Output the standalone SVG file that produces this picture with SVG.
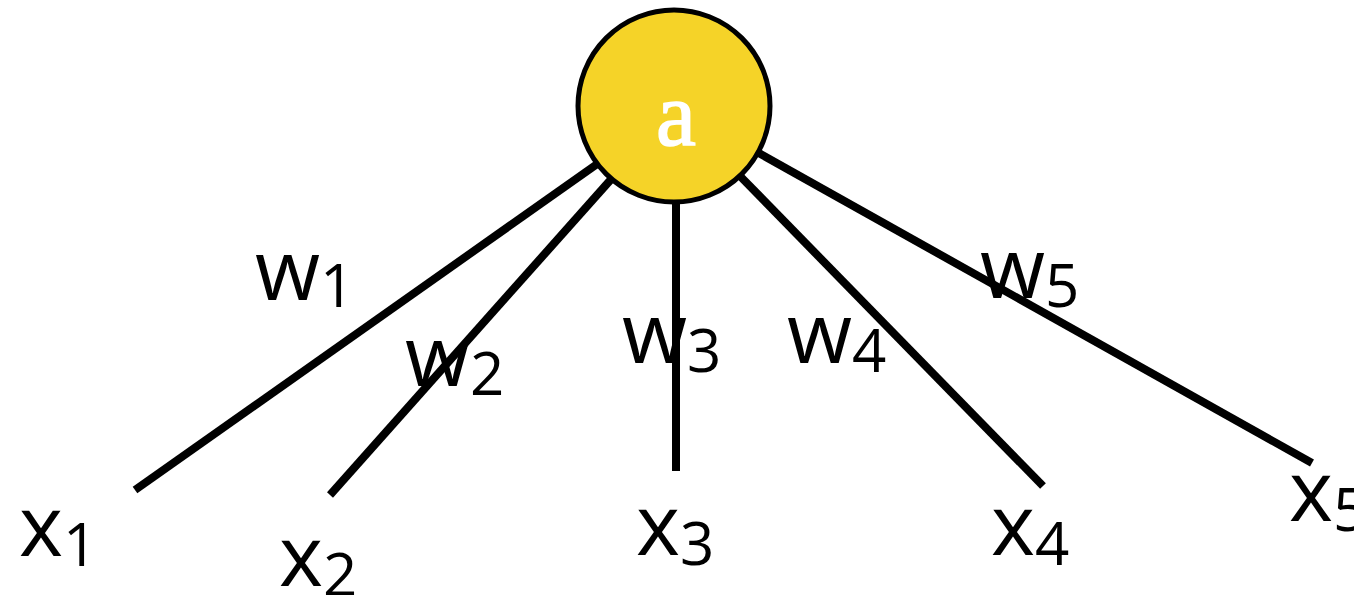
<svg xmlns="http://www.w3.org/2000/svg" width="1354" height="595" viewBox="0 0 1354 595">
  <style>
    .edge { stroke: #000; stroke-width: 8; fill: none; }
    .lbl { font-family: "Open Sans", "Noto Sans", sans-serif; font-size: 84px; fill: #000; }
    .sub { font-size: 60px; }
    .node { fill: #F5D328; stroke: #000; stroke-width: 5; }
    .nodetext { font-family: "Liberation Serif", "DejaVu Serif", serif; font-size: 90px; fill: #fff; stroke: #fff; stroke-width: 1.5; text-anchor: middle; }
  </style>
  <rect width="1354" height="595" fill="#fff"/>
  <g id="connectors">
    <line class="edge" x1="600" y1="162" x2="135" y2="490"/>
    <line class="edge" x1="614" y1="176" x2="330" y2="495"/>
    <line class="edge" x1="676" y1="200" x2="676" y2="471"/>
    <line class="edge" x1="738" y1="174" x2="1043" y2="486"/>
    <line class="edge" x1="757" y1="152" x2="1312" y2="463"/>
  </g>
  <g id="node-a">
    <circle class="node" cx="674" cy="106" r="96"/>
    <text class="nodetext" x="676" y="145">a</text>
  </g>
  <g id="label-w1"><text class="lbl" x="255" y="300">w<tspan class="sub" dy="7">1</tspan></text></g>
  <g id="label-w2"><text class="lbl" x="405" y="386">w<tspan class="sub" dy="9">2</tspan></text></g>
  <g id="label-w3"><text class="lbl" x="622" y="363">w<tspan class="sub" dy="9">3</tspan></text></g>
  <g id="label-w4"><text class="lbl" x="787" y="363">w<tspan class="sub" dy="9">4</tspan></text></g>
  <g id="label-w5"><text class="lbl" x="980" y="298">w<tspan class="sub" dy="9">5</tspan></text></g>
  <g id="label-x1"><text class="lbl" x="19" y="556">x<tspan class="sub" dy="10">1</tspan></text></g>
  <g id="label-x2"><text class="lbl" x="279" y="586">x<tspan class="sub" dy="10">2</tspan></text></g>
  <g id="label-x3"><text class="lbl" x="636" y="555">x<tspan class="sub" dy="10">3</tspan></text></g>
  <g id="label-x4"><text class="lbl" x="991" y="555">x<tspan class="sub" dy="10">4</tspan></text></g>
  <g id="label-x5"><text class="lbl" x="1289" y="521">x<tspan class="sub" dy="10">5</tspan></text></g>
</svg>
